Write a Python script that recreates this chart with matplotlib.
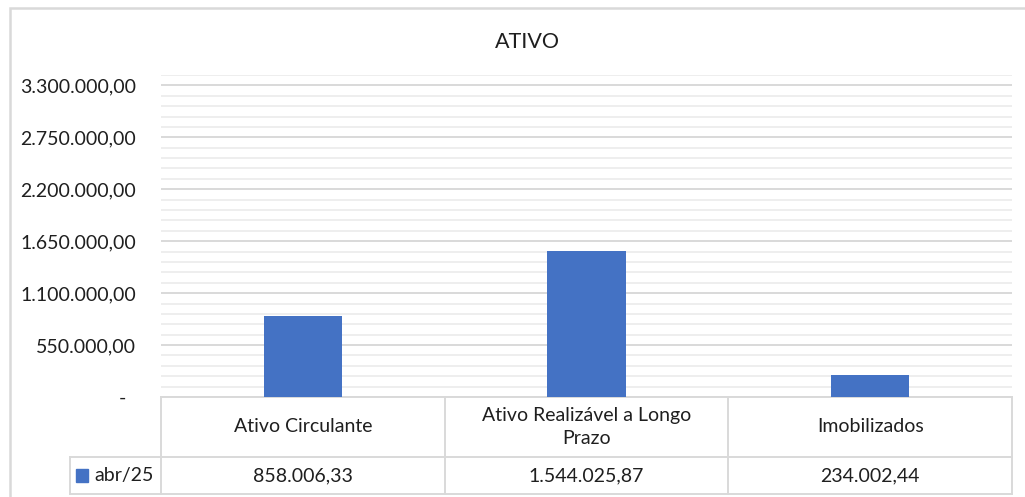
import numpy as np
import matplotlib
matplotlib.use('Agg')
import matplotlib.pyplot as plt
from matplotlib.patches import Rectangle
from matplotlib.ticker import MultipleLocator, FuncFormatter

# data
categories = ['Ativo Circulante', 'Ativo Realizável a Longo\nPrazo', 'Imobilizados']
values = [858006.33, 1544025.87, 234002.44]
series_name = 'abr/25'
title = 'ATIVO'

BAR_COLOR = '#4472C4'
GRID_MAJOR = '#d9d9d9'
GRID_MINOR = '#eeeeee'
LINE = '#d9d9d9'
TEXT = '#1f1f1f'
FS = 14

plt.rcParams['font.family'] = ['Lato', 'DejaVu Sans']

W, H = 1025, 497
fig = plt.figure(figsize=(W / 100, H / 100), dpi=100)

def fx(px):
    return px / W

def fy(py):
    return 1 - py / H

# chart border
fig.patches.append(Rectangle((fx(10), fy(520)), fx(1040) - fx(10), fy(8) - fy(520),
                             transform=fig.transFigure, fill=False,
                             edgecolor=LINE, linewidth=1.8))

ax = fig.add_axes([fx(161), fy(397), fx(1012) - fx(161), fy(75) - fy(397)])

def br_fmt(v, pos):
    if abs(v) < 1:
        return '-  '
    s = '{:,.2f}'.format(v)
    return s.replace(',', 'X').replace('.', ',').replace('X', '.')

x = np.arange(len(categories))
ax.bar(x, values, width=0.275, color=BAR_COLOR, zorder=3)
ax.set_xlim(-0.5, len(categories) - 0.5)
ax.set_ylim(0, 3410000)
ax.yaxis.set_major_locator(MultipleLocator(550000))
ax.yaxis.set_minor_locator(MultipleLocator(110000))
ax.yaxis.set_major_formatter(FuncFormatter(br_fmt))
ax.grid(which='major', axis='y', color=GRID_MAJOR, linewidth=1.4, zorder=0)
ax.grid(which='minor', axis='y', color=GRID_MINOR, linewidth=1.4, zorder=0)
ax.tick_params(axis='y', which='both', length=0, pad=18, labelsize=FS, labelcolor=TEXT)
ax.set_xticks([])
for s in ax.spines.values():
    s.set_visible(False)

fig.text(fx(527), fy(42), title, fontsize=15.5, color=TEXT, ha='center', va='center')

# data table below the axis (x in data coords, y in axes coords)
trans = matplotlib.transforms.blended_transform_factory(ax.transData, ax.transAxes)
ax_h = 397 - 75
def ay(py):
    return (397 - py) / ax_h

row1_bot = ay(457)
row2_bot = ay(494)
left_ext = -0.5 - (161 - 70) / ((1012 - 161) / len(categories))

kw = dict(transform=trans, clip_on=False, color=LINE, linewidth=1.4)
ax.plot([-0.5, len(categories) - 0.5], [0, 0], **kw)
ax.plot([left_ext, len(categories) - 0.5], [row1_bot, row1_bot], **kw)
ax.plot([left_ext, len(categories) - 0.5], [row2_bot, row2_bot], **kw)
ax.plot([left_ext, left_ext], [row1_bot, row2_bot], **kw)
for b in np.arange(len(categories) + 1) - 0.5:
    ax.plot([b, b], [0, row2_bot], **kw)

for i, (c, v) in enumerate(zip(categories, values)):
    ax.text(i, row1_bot / 2, c, transform=trans, ha='center', va='center',
            fontsize=FS, color=TEXT, linespacing=1.45)
    ax.text(i, (row1_bot + row2_bot) / 2, br_fmt(v, None), transform=trans,
            ha='center', va='center', fontsize=FS, color=TEXT)

# legend key in the table
ax.add_patch(Rectangle((left_ext + 0.02, (row1_bot + row2_bot) / 2 - 0.019), 0.044, 0.038,
                       transform=trans, clip_on=False, color=BAR_COLOR))
ax.text(left_ext + 0.085, (row1_bot + row2_bot) / 2, series_name, transform=trans,
        ha='left', va='center', fontsize=FS, color=TEXT)

fig.savefig('out.png', dpi=100)
